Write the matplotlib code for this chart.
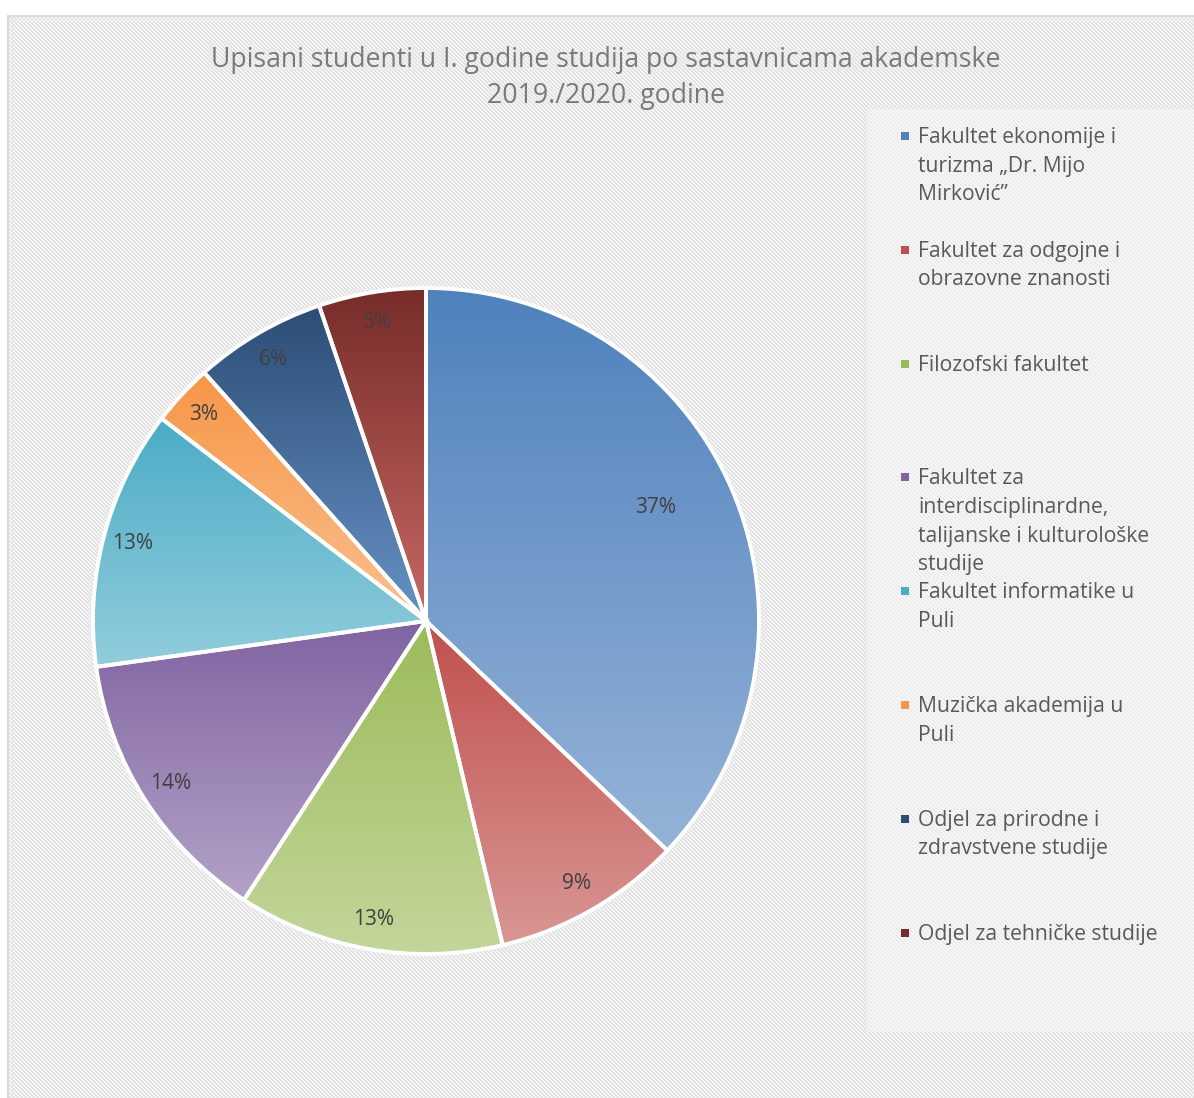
import numpy as np
import matplotlib
matplotlib.use("Agg")
import matplotlib.pyplot as plt
from matplotlib.patches import Rectangle

W, H = 1194, 1098  # output size in pixels

title = "Upisani studenti u I. godine studija po sastavnicama akademske\n2019./2020. godine"

categories = [
    "Fakultet ekonomije i turizma „Dr. Mijo Mirković”",
    "Fakultet za odgojne i obrazovne znanosti",
    "Filozofski fakultet",
    "Fakultet za interdisciplinarne, talijanske i kulturološke studije",
    "Fakultet informatike u Puli",
    "Muzička akademija u Puli",
    "Odjel za prirodne i zdravstvene studije",
    "Odjel za tehničke studije",
]
legend_labels = [
    "Fakultet ekonomije i\nturizma „Dr. Mijo\nMirković”",
    "Fakultet za odgojne i\nobrazovne znanosti",
    "Filozofski fakultet",
    "Fakultet za\ninterdisciplinardne,\ntalijanske i kulturološke\nstudije",
    "Fakultet informatike u\nPuli",
    "Muzička akademija u\nPuli",
    "Odjel za prirodne i\nzdravstvene studije",
    "Odjel za tehničke studije",
]
shares = [37.1, 9.2, 12.9, 13.6, 12.6, 3.0, 6.4, 5.2]  # percent

top_colors = ["#4F81BD", "#C0504D", "#9BBB59", "#8064A2", "#4BACC6", "#F79646", "#2C4D75", "#772C2A"]
bottom_colors = ["#95B3D7", "#D99694", "#C3D69B", "#B3A2C7", "#92CDDC", "#FAC090", "#6792C6", "#C86865"]
label_dist = [0.77, 0.91, 0.91, 0.91, 0.91, 0.91, 0.91, 0.91]
label_shift = [3.0, 0, 0, 0, 0, 0, 0, 0]  # degrees, nudges the big label like Excel's best fit


def _hex(c):
    c = c.lstrip("#")
    return np.array([int(c[i:i + 2], 16) for i in (0, 2, 4)], dtype=float) / 255.0


def _background():
    rows, cols = np.mgrid[0:H, 0:W]
    stripe = ((cols - rows) % 4) < 2
    img = np.where(stripe, 225.0, 245.0)
    legend = (cols >= 867) & (rows >= 109) & (rows <= 1031)
    img[legend] = img[legend] * 0.7 + 255 * 0.3
    img[(rows < 15) | (cols < 7)] = 255
    img[15:17, 7:] = 217
    img[15:, 7:9] = 217
    return np.dstack([img, img, img]) / 255.0


fig = plt.figure(figsize=(W / 100, H / 100), dpi=100)
fig.patch.set_facecolor("white")
fig.figimage(_background(), xo=0, yo=0, origin="upper", zorder=-1)

# pie: centre (426, 621) px, radius 333 px
cx, cy, r = 426, 621, 333
lim = 1.05
side = 2 * r * lim
ax = fig.add_axes([(cx - r * lim) / W, (H - cy - r * lim) / H, side / W, side / H])

wedges, _ = ax.pie(
    shares,
    colors=top_colors,
    startangle=90,
    counterclock=False,
    wedgeprops=dict(edgecolor="white", linewidth=2.8),
)

grad = np.linspace(0, 1, 256)[:, None, None]
for w, c0, c1 in zip(wedges, top_colors, bottom_colors):
    ext = w.get_path().get_extents()
    arr = _hex(c0)[None, None, :] * (1 - grad) + _hex(c1)[None, None, :] * grad
    im = ax.imshow(arr, extent=(ext.x0, ext.x1, ext.y0, ext.y1), origin="upper",
                   aspect="auto", interpolation="bilinear", zorder=1)
    im.set_clip_path(w)
    w.set_facecolor("none")
    w.set_zorder(2)

for w, d, sh, s in zip(wedges, label_dist, label_shift, shares):
    ang = np.deg2rad((w.theta1 + w.theta2) / 2 + sh)
    ax.text(d * np.cos(ang), d * np.sin(ang), f"{s:.0f}%", ha="center", va="center",
            fontsize=15, color="#404040", family="Open Sans", zorder=3)

ax.set_aspect("equal")
ax.set_xlim(-lim, lim)
ax.set_ylim(-lim, lim)
ax.axis("off")

fig.text(606 / W, 1 - 78 / H, title, ha="center", va="center", fontsize=19.2,
         color="#7a7a7a", family="Open Sans", linespacing=1.42)

# legend, drawn by hand to follow the reference layout
for i, (lab, col) in enumerate(zip(legend_labels, top_colors)):
    y = 136 + i * 113.8
    fig.add_artist(Rectangle((901 / W, 1 - (y + 4) / H), 8 / W, 8 / H,
                             transform=fig.transFigure, facecolor=col, edgecolor="none"))
    fig.text(918 / W, 1 - (y - 9) / H, lab, ha="left", va="top", fontsize=15.2,
             color="#595959", family="Open Sans", linespacing=1.48)

fig.savefig("out.png", dpi=100)
